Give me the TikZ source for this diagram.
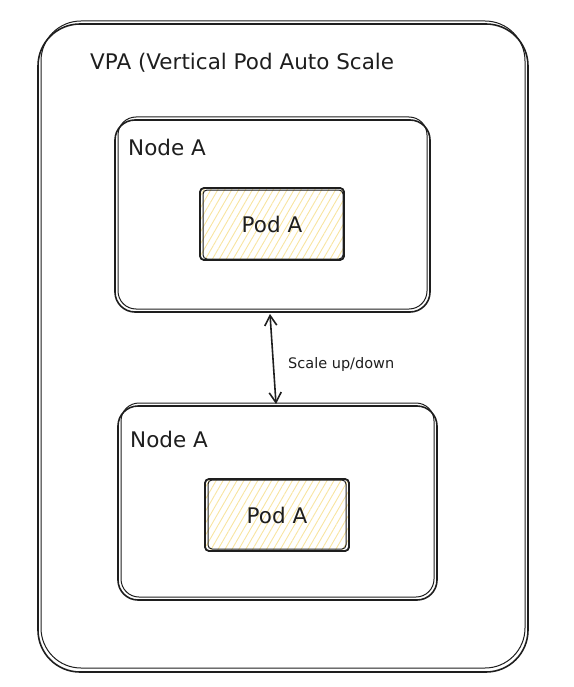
\documentclass[tikz,border=0pt]{standalone}
\usepackage{fontspec}
\setmainfont{DejaVu Sans}
\usetikzlibrary{arrows.meta,patterns.meta}
\definecolor{inkc}{HTML}{1E1E1E}
\definecolor{podfill}{HTML}{FFFBEA}
\definecolor{hatchc}{HTML}{F8E4A0}
\tikzset{
  sketch/.style={draw=inkc, line width=1.6pt, line join=round, line cap=round},
  sketchb/.style={draw=inkc, line width=1.0pt, line join=round, line cap=round},
  lbl/.style={font=\fontsize{21.5}{24}\selectfont, text=inkc, inner sep=0pt, anchor=base west},
  smalllbl/.style={font=\fontsize{14.5}{16}\selectfont, text=inkc, inner sep=0pt, anchor=base west},
  podbox/.style={sketch, fill=podfill, minimum width=144pt, minimum height=72pt, rounded corners=4pt, inner sep=0pt,
     font=\fontsize{21.5}{24}\selectfont, text=inkc},
  arr/.style={draw=inkc, line width=1.6pt, {Straight Barb[length=10pt,width=12pt]}-{Straight Barb[length=10pt,width=12pt]}}
}
\begin{document}
\begin{tikzpicture}[x=1pt,y=-1pt]
\useasboundingbox (0,0) rectangle (573,687);
% outer VPA box
\draw[sketch, rounded corners=42pt] (38,24) rectangle (528,672);
\draw[sketchb, rounded corners=40pt] (41,21) rectangle (525,668);
\node[lbl] (title) at (90,70) {VPA (Vertical Pod Auto Scale};
% top node
\draw[sketch, rounded corners=20pt] (115,120) rectangle (430,312);
\draw[sketchb, rounded corners=18pt] (118,117) rectangle (427,309);
\coordinate (topN) at (270,314);
\node[lbl] (nodeA1) at (128,156) {Node A};
\node[podbox, pattern={Lines[angle=60,distance=6pt,line width=0.9pt]}, pattern color=hatchc] (pod1box) at (272,224) {};
\node[podbox, fill=none] (pod1) at (272,224) {Pod A};
\draw[sketchb, rounded corners=4pt] (203,190) rectangle (343,259);
% bottom node
\draw[sketch, rounded corners=20pt] (118,406) rectangle (437,600);
\draw[sketchb, rounded corners=18pt] (121,403) rectangle (434,597);
\coordinate (botN) at (276,404);
\node[lbl] (nodeA2) at (130,447) {Node A};
\node[podbox, pattern={Lines[angle=60,distance=6pt,line width=0.9pt]}, pattern color=hatchc] (pod2box) at (277,515) {};
\node[podbox, fill=none] (pod2) at (277,515) {Pod A};
\draw[sketchb, rounded corners=4pt] (208,480) rectangle (346,549);
% arrow
\draw[arr] (topN) -- (botN);
\node[smalllbl] (scale) at (288,368) {Scale up/down};
\end{tikzpicture}
\end{document}
